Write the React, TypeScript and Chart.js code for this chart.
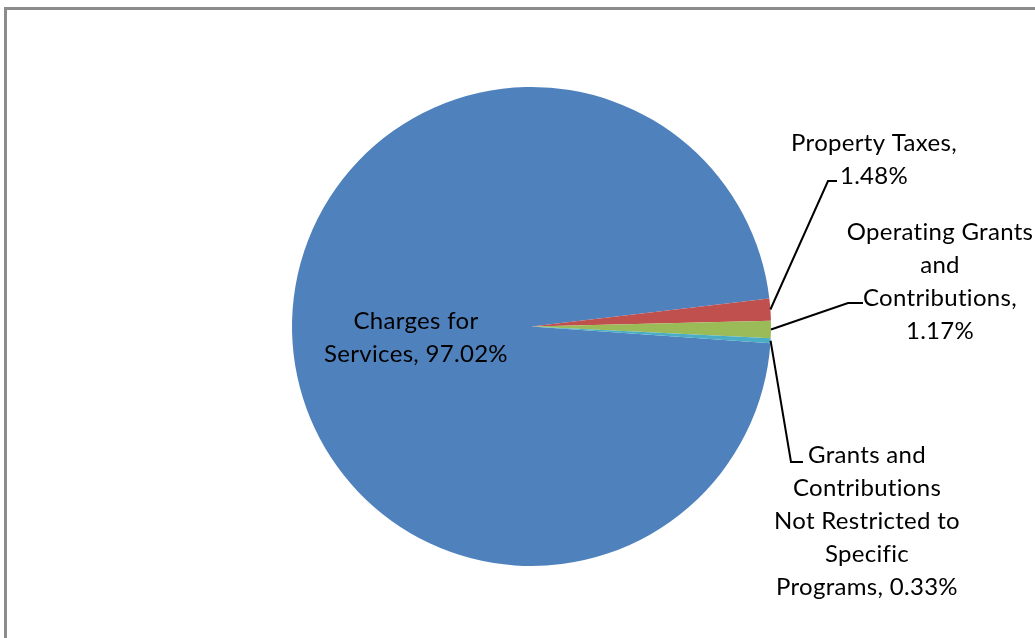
import React, { useEffect, useRef } from "react";
import { Chart, registerables } from "chart.js";

Chart.register(...registerables);

const categories = [
  "Charges for Services",
  "Property Taxes",
  "Operating Grants and Contributions",
  "Grants and Contributions Not Restricted to Specific Programs",
];
const values = [97.02, 1.48, 1.17, 0.33];
const colors = ["#4F81BD", "#C0504D", "#9BBB59", "#4BACC6"];
const labelLines = [
  ["Charges for", "Services, 97.02%"],
  ["Property Taxes,", "1.48%"],
  ["Operating Grants", "and", "Contributions,", "1.17%"],
  ["Grants and", "Contributions", "Not Restricted to", "Specific", "Programs, 0.33%"],
];

// label placement (layout only)
const labelLayout = [
  { x: 416, y: 320, elbow: null, end: null },
  { x: 874, y: 142, elbow: [828, 181], end: [837, 181] },
  { x: 940, y: 231, elbow: [848, 303], end: [863, 303] },
  { x: 867, y: 454, elbow: [791, 462], end: [803, 462] },
];
const LINE_H = 33;
const FONT = "24px Lato";

const labelPlugin = {
  id: "pieLabels",
  afterDatasetsDraw(chart: any) {
    const ctx = chart.ctx;
    const meta = chart.getDatasetMeta(0);
    ctx.save();
    meta.data.forEach((arc: any, i: number) => {
      const lay = labelLayout[i];
      const { x, y, startAngle, endAngle, outerRadius } = arc.getProps(
        ["x", "y", "startAngle", "endAngle", "outerRadius"],
        true
      );
      if (lay.elbow && lay.end) {
        const mid = (startAngle + endAngle) / 2;
        const sx = x + Math.cos(mid) * outerRadius;
        const sy = y + Math.sin(mid) * outerRadius;
        ctx.beginPath();
        ctx.strokeStyle = "#000";
        ctx.lineWidth = 2;
        ctx.moveTo(sx, sy);
        ctx.lineTo(lay.elbow[0], lay.elbow[1]);
        ctx.lineTo(lay.end[0], lay.end[1]);
        ctx.stroke();
      }
      ctx.fillStyle = "#000";
      ctx.font = FONT;
      try {
        (ctx as any).letterSpacing = "0.3px";
      } catch (e) {}
      ctx.textAlign = "center";
      ctx.textBaseline = "middle";
      labelLines[i].forEach((line, k) => {
        ctx.fillText(line, lay.x, lay.y + 1 + k * LINE_H);
      });
    });
    ctx.restore();
  },
};

export default function App() {
  const ref = useRef<HTMLCanvasElement | null>(null);
  useEffect(() => {
    if (!ref.current) return;
    const chart = new Chart(ref.current, {
      type: "pie",
      data: {
        labels: categories,
        datasets: [
          {
            data: values,
            backgroundColor: colors,
            borderWidth: 0,
            radius: 239.5,
          } as any,
        ],
      },
      options: {
        responsive: false,
        maintainAspectRatio: false,
        animation: false,
        rotation: 94,
        layout: { padding: { left: 40, right: 12, top: 20, bottom: 5 } },
        plugins: {
          legend: { display: false },
          tooltip: { enabled: false },
        },
      },
      plugins: [labelPlugin],
    });
    return () => chart.destroy();
  }, []);

  return (
    <div
      style={{
        position: "fixed",
        left: 0,
        top: 0,
        width: 1035,
        height: 638,
        overflow: "hidden",
        background: "#fff",
      }}
    >
      <div
        style={{
          position: "absolute",
          left: 4,
          top: 7,
          width: 1200,
          height: 800,
          borderTop: "3px solid #8c8c8c",
          borderLeft: "3px solid #8c8c8c",
        }}
      />
      <canvas
        ref={ref}
        width={1035}
        height={638}
        style={{ position: "absolute", left: 0, top: 0, width: 1035, height: 638 }}
      />
    </div>
  );
}
